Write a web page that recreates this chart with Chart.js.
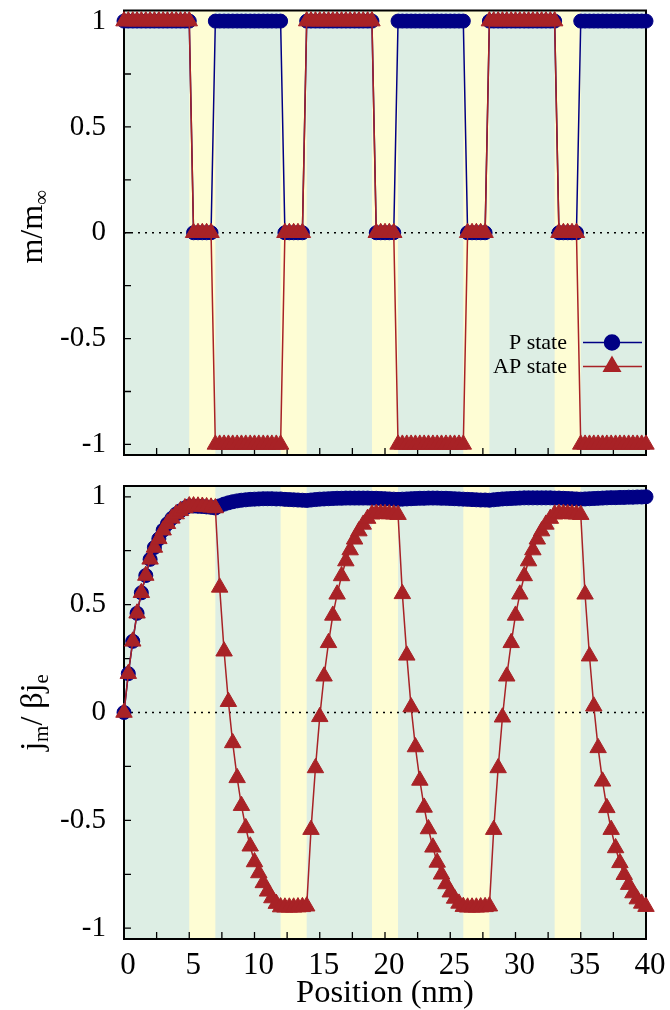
<!DOCTYPE html>
<html><head><meta charset="utf-8">
<script src="https://cdn.jsdelivr.net/npm/chart.js@4.4.0/dist/chart.umd.min.js"></script>
<style>
html,body{margin:0;padding:0;background:#fff;width:670px;height:1010px;overflow:hidden}
canvas{position:absolute;left:0}
#c1{top:0}
#c2{top:470px}
</style></head><body>
<canvas id="c1" width="670" height="470"></canvas>
<canvas id="c2" width="670" height="540"></canvas>
<script>
// ---- data ----
const positions = [
  0, 0.33, 0.67, 1, 1.33, 1.67, 2, 2.33, 2.67, 3, 3.33, 3.67, 4, 4.33, 4.67, 5,
  5.33, 5.67, 6, 6.33, 6.67,
  7, 7.33, 7.67, 8, 8.33, 8.67, 9, 9.33, 9.67, 10, 10.33, 10.67, 11, 11.33, 11.67, 12,
  12.33, 12.67, 13, 13.33, 13.67,
  14, 14.33, 14.67, 15, 15.33, 15.67, 16, 16.33, 16.67, 17, 17.33, 17.67, 18, 18.33, 18.67, 19,
  19.33, 19.67, 20, 20.33, 20.67,
  21, 21.33, 21.67, 22, 22.33, 22.67, 23, 23.33, 23.67, 24, 24.33, 24.67, 25, 25.33, 25.67, 26,
  26.33, 26.67, 27, 27.33, 27.67,
  28, 28.33, 28.67, 29, 29.33, 29.67, 30, 30.33, 30.67, 31, 31.33, 31.67, 32, 32.33, 32.67, 33,
  33.33, 33.67, 34, 34.33, 34.67,
  35, 35.33, 35.67, 36, 36.33, 36.67, 37, 37.33, 37.67, 38, 38.33, 38.67, 39, 39.33, 39.67, 40
];
const mP = [
  1,1,1,1,1,1,1,1,1,1,1,1,1,1,1,1,
  0,0,0,0,0,
  1,1,1,1,1,1,1,1,1,1,1,1,1,1,1,1,
  0,0,0,0,0,
  1,1,1,1,1,1,1,1,1,1,1,1,1,1,1,1,
  0,0,0,0,0,
  1,1,1,1,1,1,1,1,1,1,1,1,1,1,1,1,
  0,0,0,0,0,
  1,1,1,1,1,1,1,1,1,1,1,1,1,1,1,1,
  0,0,0,0,0,
  1,1,1,1,1,1,1,1,1,1,1,1,1,1,1,1
];
const mAP = [
  1,1,1,1,1,1,1,1,1,1,1,1,1,1,1,1,
  0,0,0,0,0,
  -1,-1,-1,-1,-1,-1,-1,-1,-1,-1,-1,-1,-1,-1,-1,-1,
  0,0,0,0,0,
  1,1,1,1,1,1,1,1,1,1,1,1,1,1,1,1,
  0,0,0,0,0,
  -1,-1,-1,-1,-1,-1,-1,-1,-1,-1,-1,-1,-1,-1,-1,-1,
  0,0,0,0,0,
  1,1,1,1,1,1,1,1,1,1,1,1,1,1,1,1,
  0,0,0,0,0,
  -1,-1,-1,-1,-1,-1,-1,-1,-1,-1,-1,-1,-1,-1,-1,-1
];
const jP = [
  0, 0.18, 0.33, 0.46, 0.555, 0.635, 0.71, 0.765, 0.805, 0.845, 0.875, 0.9, 0.92, 0.935, 0.948, 0.957,
  0.957, 0.956, 0.955, 0.953, 0.951,
  0.948, 0.958, 0.966, 0.972, 0.977, 0.981, 0.984, 0.986, 0.988, 0.989, 0.99, 0.991, 0.991, 0.991, 0.99, 0.99,
  0.988, 0.987, 0.986, 0.985, 0.984,
  0.983, 0.985, 0.987, 0.989, 0.99, 0.991, 0.992, 0.993, 0.993, 0.994, 0.994, 0.994, 0.994, 0.994, 0.994, 0.993,
  0.993, 0.992, 0.991, 0.99, 0.989,
  0.988, 0.989, 0.99, 0.991, 0.992, 0.993, 0.993, 0.994, 0.994, 0.994, 0.993, 0.993, 0.992, 0.991, 0.99, 0.989,
  0.988, 0.987, 0.986, 0.985, 0.985,
  0.984, 0.986, 0.988, 0.99, 0.991, 0.992, 0.993, 0.994, 0.995, 0.995, 0.995, 0.995, 0.995, 0.995, 0.995, 0.994,
  0.994, 0.993, 0.992, 0.991, 0.99,
  0.989, 0.99, 0.991, 0.992, 0.993, 0.994, 0.995, 0.996, 0.996, 0.997, 0.997, 0.998, 0.998, 0.999, 0.999, 1.0
];
const jAP = [
  0, 0.18, 0.33, 0.46, 0.555, 0.635, 0.71, 0.765, 0.805, 0.845, 0.875, 0.9, 0.92, 0.935, 0.948, 0.957,
  0.957, 0.956, 0.955, 0.953, 0.951,
  0.948, 0.58, 0.284, 0.05, -0.141, -0.303, -0.432, -0.535, -0.62, -0.693, -0.744, -0.79, -0.829, -0.86, -0.886, -0.902,
  -0.903, -0.903, -0.903, -0.902, -0.901,
  -0.898, -0.543, -0.257, -0.02, 0.168, 0.323, 0.45, 0.548, 0.633, 0.702, 0.753, 0.803, 0.841, 0.872, 0.899, 0.919,
  0.922, 0.922, 0.921, 0.92, 0.919,
  0.917, 0.55, 0.265, 0.025, -0.16, -0.315, -0.44, -0.54, -0.625, -0.695, -0.75, -0.795, -0.833, -0.862, -0.885, -0.9,
  -0.903, -0.903, -0.903, -0.902, -0.901,
  -0.898, -0.543, -0.257, -0.022, 0.168, 0.323, 0.45, 0.548, 0.633, 0.702, 0.753, 0.803, 0.841, 0.872, 0.899, 0.919,
  0.922, 0.922, 0.921, 0.92, 0.919,
  0.917, 0.548, 0.261, 0.029, -0.164, -0.319, -0.442, -0.543, -0.628, -0.697, -0.752, -0.798, -0.837, -0.865, -0.885, -0.9
];
const spacerStart = [5, 12, 19, 26, 33];
const spacerEnd = [7, 14, 21, 28, 35];
const xTicks = [0, 5, 10, 15, 20, 25, 30, 35, 40];
const xMinorTicks = [2.5, 7.5, 12.5, 17.5, 22.5, 27.5, 32.5, 37.5];
const yTicks = [-1, -0.5, 0, 0.5, 1];
const yMinorTicks = [-0.75, -0.25, 0.25, 0.75];
const seriesNames = ['P state', 'AP state'];
const xTitle = 'Position (nm)';

// ---- style ----
const FONT = '"Liberation Serif", "DejaVu Serif", serif';
const BLUE = '#000084';
const RED = '#a82226';
const GREEN = '#ddeee4';
const YELLOW = '#fefdd4';

const panelPlugin = {
  id: 'panel',
  beforeDatasetsDraw(chart) {
    const {ctx, chartArea: a, scales: {x, y}} = chart;
    ctx.save();
    ctx.fillStyle = GREEN;
    ctx.fillRect(a.left, a.top, a.right - a.left, a.bottom - a.top);
    ctx.fillStyle = YELLOW;
    spacerStart.forEach((s, i) => {
      const x0 = x.getPixelForValue(s), x1 = x.getPixelForValue(spacerEnd[i]);
      ctx.fillRect(x0, a.top, x1 - x0, a.bottom - a.top);
    });
    const y0 = y.getPixelForValue(0);
    ctx.strokeStyle = '#000';
    ctx.lineWidth = 1.4;
    ctx.setLineDash([2, 5]);
    ctx.beginPath(); ctx.moveTo(a.left, y0); ctx.lineTo(a.right, y0); ctx.stroke();
    ctx.setLineDash([]);
    ctx.lineWidth = 1.3;
    ctx.beginPath();
    yTicks.concat(yMinorTicks).forEach(v => {
      const p = y.getPixelForValue(v); ctx.moveTo(a.left, p); ctx.lineTo(a.left + 7, p);
    });
    xTicks.concat(xMinorTicks).forEach(v => {
      const p = x.getPixelForValue(v); ctx.moveTo(p, a.bottom); ctx.lineTo(p, a.bottom - 7);
    });
    ctx.stroke();
    ctx.lineWidth = 2;
    ctx.strokeRect(a.left, a.top, a.right - a.left, a.bottom - a.top);
    ctx.restore();
  },
  afterDraw(chart, args, opts) {
    const {ctx, chartArea: a} = chart;
    ctx.save();
    // y title with subscripts
    const size = 32, sub = 21;
    const segs = opts.yTitle;
    let w = 0;
    segs.forEach(s => { ctx.font = (s.sub ? sub : size) + 'px ' + FONT; w += ctx.measureText(s.t).width; });
    ctx.translate(42, (a.top + a.bottom) / 2 + opts.titleShift);
    ctx.rotate(-Math.PI / 2);
    ctx.fillStyle = '#000';
    ctx.textBaseline = 'alphabetic';
    let cx = -w / 2;
    segs.forEach(s => {
      ctx.font = (s.sub ? sub : size) + 'px ' + FONT;
      ctx.fillText(s.t, cx, s.sub ? 6 : 0);
      cx += ctx.measureText(s.t).width;
    });
    ctx.restore();
    if (opts.legend) {
      ctx.save();
      ctx.font = '22px ' + FONT;
      ctx.textAlign = 'right';
      ctx.textBaseline = 'middle';
      const rows = [a.top + 332, a.top + 356];
      const colors = [BLUE, RED];
      const styles = ['circle', 'triangle'];
      const radii = [7.5, 9.5];
      rows.forEach((ry, i) => {
        ctx.fillStyle = '#000';
        ctx.fillText(seriesNames[i], a.right - 79, ry + 1);
        ctx.strokeStyle = colors[i];
        ctx.lineWidth = 1.5;
        ctx.beginPath(); ctx.moveTo(a.right - 63, ry); ctx.lineTo(a.right - 4, ry); ctx.stroke();
        ctx.fillStyle = colors[i];
        Chart.helpers.drawPoint(ctx, {pointStyle: styles[i], radius: radii[i], borderWidth: 1, rotation: 0}, a.right - 34, ry);
        ctx.fill();
      });
      ctx.restore();
    }
  }
};

function makeChart(id, pVals, apVals, o) {
  return new Chart(document.getElementById(id), {
    type: 'line',
    data: {
      datasets: [
        {
          label: seriesNames[0],
          data: positions.map((p, i) => ({x: p, y: pVals[i]})),
          borderColor: BLUE, backgroundColor: BLUE,
          pointBackgroundColor: BLUE, pointBorderColor: BLUE,
          borderWidth: 1.5, pointRadius: 7, pointBorderWidth: 1,
          pointStyle: 'circle', order: 2, clip: false, tension: 0
        },
        {
          label: seriesNames[1],
          data: positions.map((p, i) => ({x: p, y: apVals[i]})),
          borderColor: RED, backgroundColor: RED,
          pointBackgroundColor: RED, pointBorderColor: RED,
          borderWidth: 1.5, pointRadius: 9.5, pointBorderWidth: 1,
          pointStyle: 'triangle', order: 1, clip: false, tension: 0
        }
      ]
    },
    options: {
      responsive: false, animation: false, devicePixelRatio: 1,
      layout: {padding: o.padding},
      plugins: {
        legend: {display: false}, tooltip: {enabled: false},
        panel: {yTitle: o.yTitle, legend: o.legend, titleShift: o.titleShift}
      },
      scales: {
        x: {
          type: 'linear', min: 0, max: 40,
          grid: {display: false, drawTicks: false}, border: {display: false},
          ticks: {display: o.showX, color: '#000', padding: 8, maxRotation: 0, labelOffset: 4,
                  font: {family: FONT, size: 31}, callback: v => String(v)},
          afterBuildTicks: s => { s.ticks = xTicks.map(v => ({value: v})); },
          afterFit: s => { s.height = o.xHeight; s.paddingLeft = 0; s.paddingRight = 0; },
          title: {display: o.showX, text: xTitle, color: '#000',
                  font: {family: FONT, size: 32.5, lineHeight: 1.0}, padding: {top: 0, bottom: 0}}
        },
        y: {
          type: 'linear', min: -1.05, max: 1.05,
          grid: {display: false, drawTicks: false}, border: {display: false},
          ticks: {color: '#000', padding: 18, font: {family: FONT, size: 29}, callback: v => String(v)},
          afterBuildTicks: s => { s.ticks = yTicks.map(v => ({value: v})); },
          afterFit: s => { s.width = 124; s.paddingTop = 0; s.paddingBottom = 0; }
        }
      }
    },
    plugins: [panelPlugin]
  });
}

makeChart('c1', mP, mAP, {
  padding: {top: 5, right: 24, bottom: 15, left: 0},
  showX: false, xHeight: 0, legend: true, titleShift: -6,
  yTitle: [{t: 'm/m'}, {t: '\u221E', sub: true}]
});
makeChart('c2', jP, jAP, {
  padding: {top: 16, right: 24, bottom: 0, left: 0},
  showX: true, xHeight: 71, legend: false, titleShift: 0,
  yTitle: [{t: 'j'}, {t: 'm', sub: true}, {t: '/ \u03B2j'}, {t: 'e', sub: true}]
});
</script>
</body></html>
